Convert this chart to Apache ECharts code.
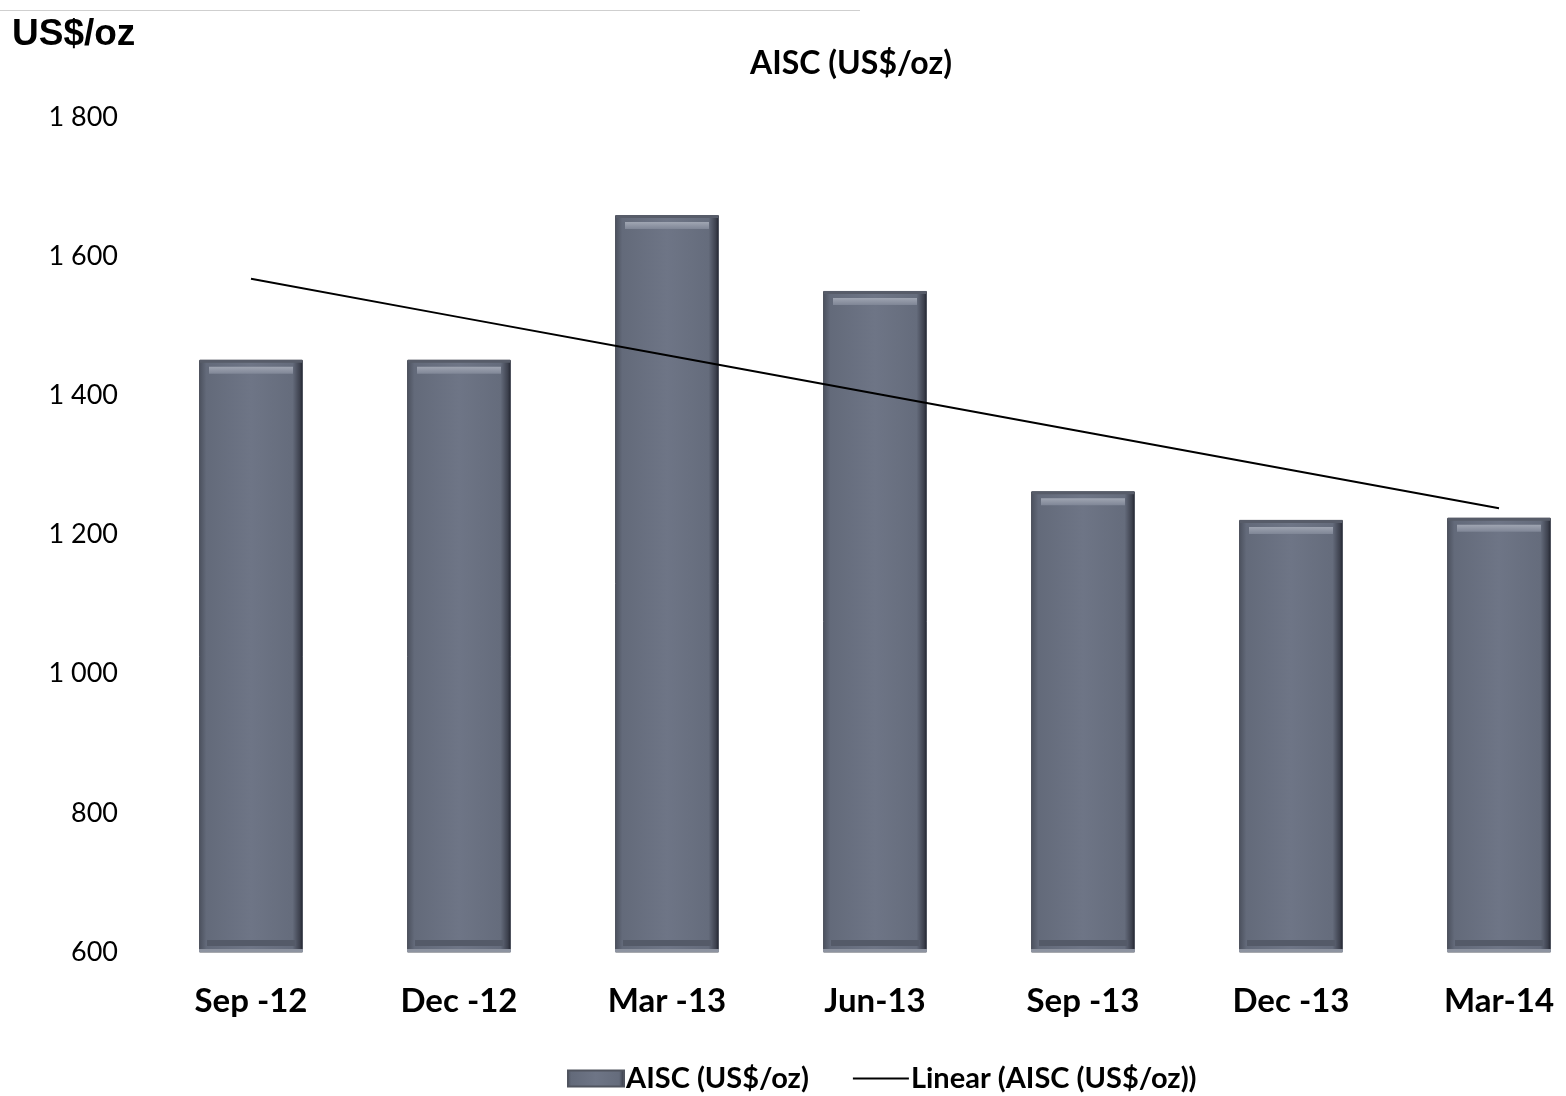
<!DOCTYPE html>
<html>
<head>
<meta charset="utf-8">
<title>AISC (US$/oz)</title>
<script src="https://cdn.jsdelivr.net/npm/echarts@6/dist/echarts.min.js"></script>
<style>
  html, body { margin: 0; padding: 0; background: #ffffff; }
  #chart { width: 1566px; height: 1096px; }
</style>
</head>
<body>
<div id="chart"></div>
<script>
// Quarter-end periods and all-in sustaining cost per ounce
const quarters = ['Sep -12', 'Dec -12', 'Mar -13', 'Jun-13', 'Sep -13', 'Dec -13', 'Mar-14'];
const aiscValues = [1451, 1451, 1659, 1550, 1262, 1221, 1224];
const yTicks = { min: 600, max: 1800, step: 200 };

// Least-squares linear trend over the quarterly values
function linearTrend(values) {
  const n = values.length;
  const mx = (n - 1) / 2;
  const my = values.reduce((a, b) => a + b, 0) / n;
  let num = 0, den = 0;
  values.forEach((v, i) => { num += (i - mx) * (v - my); den += (i - mx) * (i - mx); });
  const slope = num / den;
  return values.map((_, i) => +(my + slope * (i - mx)).toFixed(1));
}
const trendValues = linearTrend(aiscValues);

const barFill = new echarts.graphic.LinearGradient(0, 0, 1, 0, [
  { offset: 0, color: '#4a4f5c' },
  { offset: 0.07, color: '#636a7a' },
  { offset: 0.5, color: '#6e7586' },
  { offset: 0.9, color: '#656c7c' },
  { offset: 0.97, color: '#3d414e' },
  { offset: 1, color: '#1f222c' }
]);

const FONT = 'Lato, "Open Sans", sans-serif';

const chart = echarts.init(document.getElementById('chart'));
chart.setOption({
  animation: false,
  backgroundColor: '#ffffff',
  textStyle: { fontFamily: FONT },
  title: {
    text: 'AISC (US$/oz)',
    left: 846, top: 43,
    textAlign: 'center',
    textStyle: { fontSize: 32, fontWeight: 'bold', color: '#000', fontFamily: FONT }
  },
  graphic: [
    { type: 'line', shape: { x1: 0, y1: 10.5, x2: 860, y2: 10.5 }, style: { stroke: '#cfcfcf', lineWidth: 1 } },
    { type: 'text', left: 12, top: 16, style: { text: 'US$/oz', fontSize: 37, fontWeight: 'bold', fill: '#000', fontFamily: '"Liberation Sans", Arial, sans-serif' } }
  ],
  legend: {
    left: 562, top: 1059,
    itemWidth: 56, itemHeight: 16, itemGap: 44,
    textStyle: { fontSize: 29, fontWeight: 'bold', color: '#000', padding: [0, 0, 0, -3] },
    data: [
      { name: 'AISC (US$/oz)', icon: 'rect' },
      { name: 'Linear (AISC (US$/oz))', icon: 'path://M0,0 L10,0 L10,0.4 L0,0.4 Z', itemStyle: { color: '#000' } }
    ]
  },
  grid: { left: 147, top: 117, width: 1456, height: 835, outerBoundsMode: 'none', containLabel: false },
  xAxis: {
    type: 'category',
    data: quarters,
    axisLine: { show: false },
    axisTick: { show: false },
    axisLabel: { fontSize: 33, fontWeight: 'bold', color: '#000', margin: 33 }
  },
  yAxis: {
    type: 'value',
    min: yTicks.min, max: yTicks.max, interval: yTicks.step,
    axisLine: { show: false },
    axisTick: { show: false },
    splitLine: { show: false },
    axisLabel: {
      fontSize: 27, color: '#000', margin: 29,
      fontFamily: FONT,
      formatter: v => String(v).replace(/\B(?=(\d{3})+(?!\d))/g, ' ')
    }
  },
  series: [
    {
      name: 'AISC (US$/oz)',
      type: 'bar',
      barWidth: '50%',
      data: aiscValues,
      itemStyle: { color: barFill, borderColor: '#50545f', borderWidth: 1 },
      z: 2
    },
    {
      // Bevel highlight along the top edge of each bar
      name: 'bevel',
      type: 'custom',
      data: aiscValues.map((v, i) => [i, v]),
      z: 3,
      silent: true,
      renderItem: function (params, api) {
        const top = api.coord([api.value(0), api.value(1)]);
        const base = api.coord([api.value(0), yTicks.min]);
        const w = api.size([1, 0])[0] * 0.5;
        const x0 = top[0] - w / 2;
        return {
          type: 'group',
          children: [
            {
              type: 'rect',
              shape: { x: x0 + 10, y: top[1] + 7, width: w - 20, height: 7 },
              style: {
                fill: new echarts.graphic.LinearGradient(0, 0, 0, 1, [
                  { offset: 0, color: '#9fa5b2' },
                  { offset: 1, color: '#7f8696' }
                ])
              }
            },
            {
              type: 'rect',
              shape: { x: x0 + 1, y: top[1], width: w - 2, height: 3 },
              style: { fill: '#575c69' }
            },
            {
              type: 'rect',
              shape: { x: x0 + 8, y: base[1] - 12, width: w - 16, height: 6 },
              style: { fill: '#545a68' }
            },
            {
              type: 'rect',
              shape: { x: x0, y: base[1] - 3, width: w, height: 3 },
              style: { fill: '#8d93a0' }
            }
          ]
        };
      }
    },
    {
      name: 'Linear (AISC (US$/oz))',
      type: 'line',
      data: trendValues,
      symbol: 'none',
      lineStyle: { color: '#000', width: 2 },
      itemStyle: { color: '#000' },
      z: 4
    }
  ]
});
</script>
</body>
</html>
